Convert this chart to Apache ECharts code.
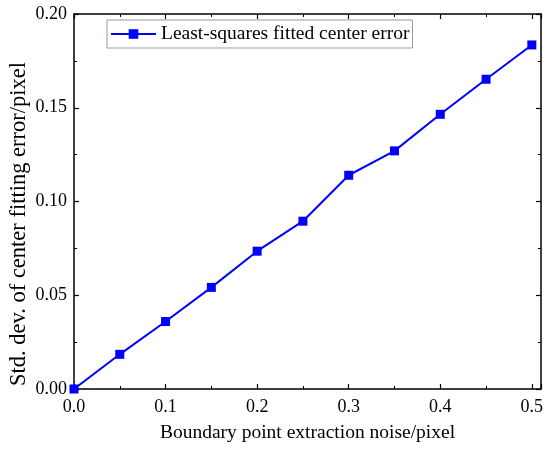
<!DOCTYPE html>
<html><head><meta charset="utf-8">
<script src="https://cdn.jsdelivr.net/npm/echarts@6/dist/echarts.min.js"></script>
<style>html,body{margin:0;padding:0;background:#fff}#c{width:550px;height:450px}</style>
</head><body><div id="c"></div>
<script>
const noise = [0, 0.05, 0.1, 0.15, 0.2, 0.25, 0.3, 0.35, 0.4, 0.45, 0.5];
const centerError = [0, 0.0185, 0.036, 0.0542, 0.0735, 0.0895, 0.114, 0.127, 0.1465, 0.1652, 0.1835];
const seriesName = 'Least-squares fitted center error';
const xTitle = 'Boundary point extraction noise/pixel';
const yTitle = 'Std. dev. of center fitting error/pixel';

const font = 'Liberation Serif';
const chart = echarts.init(document.getElementById('c'));
const axisLine = {show: true, onZero: false, lineStyle: {color: '#000', width: 1.5}};
const tick = {show: true, inside: true, length: 5, lineStyle: {color: '#000', width: 1.2}};
const minor = {show: true, splitNumber: 2, length: 3, lineStyle: {color: '#000', width: 1}};
chart.setOption({
  animation: false,
  textStyle: {fontFamily: font},
  grid: {left: 74, right: 9, top: 14, bottom: 61, containLabel: false, outerBoundsMode: 'none'},
  legend: {
    left: 107, top: 20, padding: [4, 3, 4, 3],
    borderColor: '#999', borderWidth: 1,
    itemWidth: 45, itemHeight: 12, itemGap: 5,
    textStyle: {fontFamily: font, fontSize: 19.5, color: '#000', padding: [0, 0, 0, 0]},
    data: [seriesName]
  },
  xAxis: [{
    type: 'value', min: 0, max: 0.51, interval: 0.1,
    name: xTitle, nameLocation: 'middle', nameGap: 34,
    nameTextStyle: {fontFamily: font, fontSize: 19.5, color: '#000'},
    axisLine: axisLine, axisTick: tick, minorTick: minor, splitLine: {show: false},
    axisLabel: {fontFamily: font, fontSize: 18, color: '#000', margin: 9, showMaxLabel: false,
      formatter: v => v.toFixed(1)}
  }, {
    type: 'value', min: 0, max: 0.51, interval: 0.1, position: 'top',
    axisLine: axisLine, axisTick: tick, minorTick: minor, splitLine: {show: false},
    axisLabel: {show: false}
  }],
  yAxis: [{
    type: 'value', min: 0, max: 0.2, interval: 0.05,
    name: yTitle, nameLocation: 'middle', nameGap: 43, nameMoveOverlap: false,
    nameTextStyle: {fontFamily: font, fontSize: 22.5, color: '#000', padding: [0, 45, 0, 0]},
    axisLine: axisLine, axisTick: tick, minorTick: minor, splitLine: {show: false},
    axisLabel: {fontFamily: font, fontSize: 18, color: '#000', margin: 7,
      formatter: v => v.toFixed(2)}
  }, {
    type: 'value', min: 0, max: 0.2, interval: 0.05, position: 'right',
    axisLine: axisLine, axisTick: tick, minorTick: minor, splitLine: {show: false},
    axisLabel: {show: false}
  }],
  series: [{
    name: seriesName, type: 'line',
    data: noise.map((x, i) => [x, centerError[i]]),
    symbol: 'rect', symbolSize: 9,
    lineStyle: {color: '#0000ff', width: 2},
    itemStyle: {color: '#0000ff'}
  }]
});
</script></body></html>
